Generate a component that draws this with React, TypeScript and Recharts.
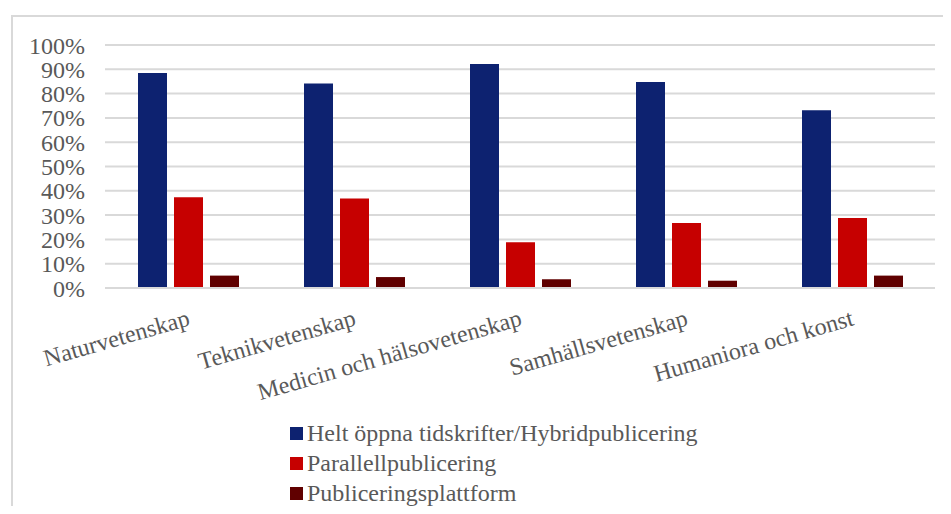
import React from 'react';
import { BarChart, Bar, XAxis, YAxis, CartesianGrid, Legend } from 'recharts';

const CATEGORIES = ['Naturvetenskap', 'Teknikvetenskap', 'Medicin och hälsovetenskap', 'Samhällsvetenskap', 'Humaniora och konst'];
const OPEN_ACCESS = [88.5, 84.2, 92.2, 84.8, 73.1];
const PARALLEL = [37.3, 36.8, 18.8, 26.7, 28.8];
const PLATFORM = [5.1, 4.5, 3.6, 3.0, 5.1];
const Y_TICKS = [0, 10, 20, 30, 40, 50, 60, 70, 80, 90, 100];

const SERIES = [
    { key: 'open', name: 'Helt öppna tidskrifter/Hybridpublicering', color: '#0d2270' },
    { key: 'parallel', name: 'Parallellpublicering', color: '#c60000' },
    { key: 'platform', name: 'Publiceringsplattform', color: '#600000' },
];

const data = CATEGORIES.map((name, i) => ({
    name,
    open: OPEN_ACCESS[i],
    parallel: PARALLEL[i],
    platform: PLATFORM[i],
}));

const FONT = '"Liberation Serif", "Times New Roman", serif';
const TEXT = '#595959';
const GRID = '#d9d9d9';

// rotated category label, text ends at the category centre
function CategoryTick({ x, y, payload }: any) {
    const ty = y + 29;
    return (
        <text
            x={x + 3}
            y={ty}
            textAnchor="end"
            transform={`rotate(-16, ${x + 3}, ${ty})`}
            fill={TEXT}
            fontSize={24}
            fontFamily={FONT}
        >
            {payload.value}
        </text>
    );
}

function LegendList() {
    return (
        <div style={{ fontFamily: FONT, fontSize: 24, color: TEXT, lineHeight: '30px' }}>
            {SERIES.map((s) => (
                <div key={s.key} style={{ display: 'flex', alignItems: 'center', whiteSpace: 'nowrap' }}>
                    <span style={{ width: 13, height: 13, background: s.color, display: 'inline-block', marginRight: 4 }} />
                    <span>{s.name}</span>
                </div>
            ))}
        </div>
    );
}

export default function App() {
    return (
        <div style={{ position: 'relative', width: 935, height: 498, overflow: 'hidden', background: '#fff' }}>
            <div
                style={{
                    position: 'absolute',
                    left: 3,
                    top: 7,
                    width: 1000,
                    height: 600,
                    borderLeft: `2px solid ${GRID}`,
                    borderTop: `2px solid ${GRID}`,
                }}
            />
            <div style={{ position: 'absolute', left: 0, top: 0 }}>
                <BarChart
                    width={935}
                    height={498}
                    data={data}
                    margin={{ top: 37, right: 8, bottom: 0, left: 0 }}
                    barSize={29}
                    barGap={7}
                >
                    <CartesianGrid vertical={false} stroke={GRID} strokeWidth={2} />
                    <XAxis
                        dataKey="name"
                        interval={0}
                        height={218}
                        tickLine={false}
                        axisLine={{ stroke: GRID, strokeWidth: 2 }}
                        tick={<CategoryTick />}
                    />
                    <YAxis
                        width={97}
                        domain={[0, 100]}
                        ticks={Y_TICKS}
                        interval={0}
                        tickFormatter={(v: number) => `${v}%`}
                        axisLine={false}
                        tickLine={false}
                        tickMargin={14}
                        tick={{ fill: TEXT, fontSize: 24, fontFamily: FONT }}
                    />
                    <Legend
                        layout="vertical"
                        align="center"
                        verticalAlign="middle"
                        content={() => <LegendList />}
                        wrapperStyle={{ left: 282, top: 410, width: 'auto' }}
                    />
                    {SERIES.map((s) => (
                        <Bar key={s.key} dataKey={s.key} name={s.name} fill={s.color} isAnimationActive={false} />
                    ))}
                </BarChart>
            </div>
        </div>
    );
}
